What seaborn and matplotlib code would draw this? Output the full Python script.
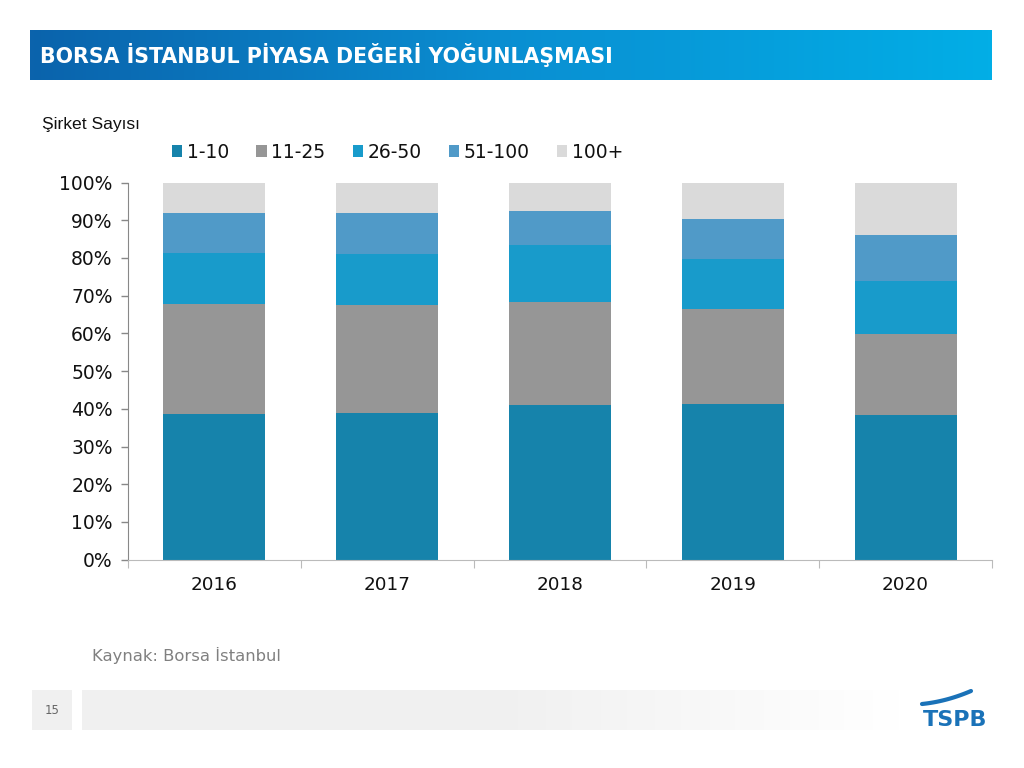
import numpy as np
import pandas as pd
import matplotlib
matplotlib.use("Agg")
import matplotlib.pyplot as plt
import seaborn as sns
from matplotlib.patches import Patch, Rectangle
from matplotlib.lines import Line2D
from matplotlib.colors import LinearSegmentedColormap
from matplotlib.ticker import PercentFormatter, FixedLocator

# ---------------------------------------------------------------
# DATA (share of companies, %)
# ---------------------------------------------------------------
years = ["2016", "2017", "2018", "2019", "2020"]
groups = ["1-10", "11-25", "26-50", "51-100", "100+"]
s_1_10 = [38.7, 39.0, 40.9, 41.2, 38.3]
s_11_25 = [29.0, 28.6, 27.5, 25.2, 21.5]
s_26_50 = [13.7, 13.5, 15.1, 13.4, 14.0]
s_51_100 = [10.4, 10.7, 9.0, 10.5, 12.2]
s_100p = [8.2, 8.2, 7.5, 9.7, 14.0]

colors = ["#1683ab", "#969696", "#189bcb", "#509ac8", "#dadada"]

df = pd.DataFrame(
    {"1-10": s_1_10, "11-25": s_11_25, "26-50": s_26_50,
     "51-100": s_51_100, "100+": s_100p},
    index=years,
)
cum = df.cumsum(axis=1)

sns.set_style("white")
plt.rcParams["font.family"] = ["DejaVu Sans"]

fig = plt.figure(figsize=(10.24, 7.68), dpi=100)
ax = fig.add_axes([128 / 1024, 1 - 559.7 / 768, 864 / 1024, (559.7 - 182.5) / 768])

# stacked bars: draw cumulative totals from top layer down
for g, c in zip(reversed(groups), reversed(colors)):
    sns.barplot(x=years, y=cum[g].values, color=c, saturation=1,
                width=0.59, linewidth=0, ax=ax)

ax.set_ylim(0, 100)
ax.set_xlim(-0.5, 4.5)
ax.set_yticks(np.arange(0, 101, 10))
ax.yaxis.set_major_formatter(PercentFormatter(decimals=0))
ax.tick_params(axis="y", length=5, width=1, color="#888888", labelsize=13.5,
               labelcolor="#111111", pad=6, left=True)
ax.tick_params(axis="x", which="major", length=0, labelsize=13.2,
               labelcolor="#111111", pad=12)
ax.xaxis.set_minor_locator(FixedLocator(np.arange(-0.5, 5, 1)))
ax.tick_params(axis="x", which="minor", length=6, width=0.8,
               color="#bbbbbb", bottom=True)
for s in ["top", "right"]:
    ax.spines[s].set_visible(False)
ax.spines["left"].set_color("#888888")
ax.spines["bottom"].set_color("#bbbbbb")
ax.set_xlabel("")
ax.set_ylabel("")

# legend
handles = [Patch(facecolor=c, edgecolor="none", label=g) for g, c in zip(groups, colors)]
fig.legend(handles=handles, loc="center left", bbox_to_anchor=(155 / 1024, 1 - 152 / 768),
           ncol=5, frameon=False, fontsize=13.5, handlelength=0.55, handleheight=0.55,
           handletextpad=0.25, columnspacing=1.45, labelcolor="#111111")

fig.text(42 / 1024, 1 - 125 / 768, "Şirket Sayısı", fontsize=12.6, color="#111111",
         va="center", ha="left", family="Liberation Sans")

# header band with gradient
hax = fig.add_axes([30 / 1024, 1 - 80 / 768, 962 / 1024, 50 / 768])
cmap = LinearSegmentedColormap.from_list("hdr", ["#0b63ac", "#0a8fd2", "#02aee6"])
hax.imshow(np.linspace(0, 1, 256).reshape(1, -1), aspect="auto", cmap=cmap,
           extent=[0, 1, 0, 1])
hax.set_axis_off()
fig.text(40 / 1024, 1 - 55 / 768, "BORSA İSTANBUL PİYASA DEĞERİ YOĞUNLAŞMASI",
         fontsize=14.8, fontweight="bold", color="white", va="center", ha="left")

# source
fig.text(92 / 1024, 1 - 655 / 768, "Kaynak: Borsa İstanbul", fontsize=11.8,
         color="#808080", va="center", ha="left")

# footer
fig.add_artist(Rectangle((32 / 1024, 1 - 730 / 768), 40 / 1024, 40 / 768,
                         transform=fig.transFigure, facecolor="#f0f0f0", edgecolor="none"))
fig.text(52 / 1024, 1 - 710 / 768, "15", fontsize=8.5, color="#666666",
         ha="center", va="center")
fax = fig.add_axes([82 / 1024, 1 - 730 / 768, 820 / 1024, 40 / 768])
fcmap = LinearSegmentedColormap.from_list("ftr", ["#f0f0f0", "#f0f0f0", "#ffffff"])
fax.imshow(np.linspace(0, 1, 256).reshape(1, -1), aspect="auto", cmap=fcmap,
           extent=[0, 1, 0, 1])
fax.set_axis_off()

# TSPB logo
fig.text(955 / 1024, 1 - 719.5 / 768, "TSPB", fontsize=16, fontweight="bold",
         color="#1a72b8", ha="center", va="center")
t = np.linspace(0, 1, 50)
arc_x = (922 + 49 * t) / 1024
arc_y = 1 - (704 - 5 * t - 8 * t ** 2) / 768
fig.add_artist(Line2D(arc_x, arc_y, transform=fig.transFigure, color="#1a72b8",
                      linewidth=3, solid_capstyle="round"))

fig.savefig("out.png", dpi=100)
